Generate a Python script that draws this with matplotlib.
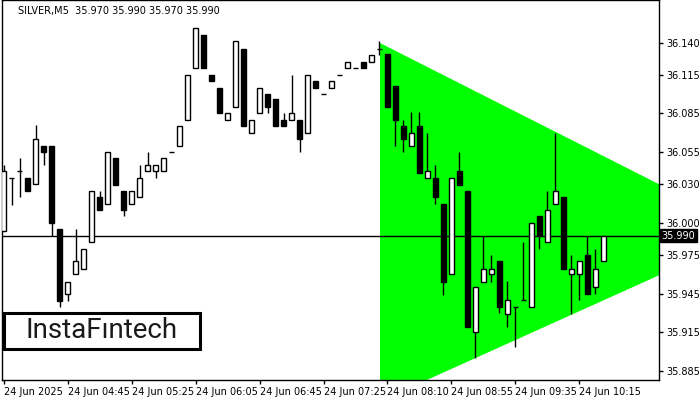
import matplotlib
matplotlib.use('Agg')
import matplotlib.pyplot as plt
import numpy as np

# OHLC of the M5 bars
opens = [35.994, 36.035, 36.040, 36.035, 36.030, 36.060, 36.060, 35.995, 35.945, 35.960,
         35.964, 35.985, 36.020, 36.015, 36.050, 36.025, 36.015, 36.020, 36.040, 36.040,
         36.040, 36.055, 36.060, 36.080, 36.120, 36.146, 36.115, 36.105, 36.080, 36.090,
         36.135, 36.070, 36.085, 36.100, 36.096, 36.080, 36.080, 36.080, 36.070, 36.110,
         36.100, 36.105, 36.115, 36.120, 36.120, 36.125, 36.125, 36.135, 36.131, 36.106,
         36.075, 36.060, 36.075, 36.035, 36.035, 36.015, 35.960, 36.040, 36.025, 35.915,
         35.954, 35.960, 35.970, 35.929, 35.935, 35.940, 35.935, 36.005, 35.985, 36.015,
         36.020, 35.960, 35.960, 35.975, 35.950, 35.970]
highs = [36.045, 36.035, 36.050, 36.035, 36.076, 36.060, 36.060, 35.995, 35.954, 35.995,
         35.980, 36.025, 36.025, 36.055, 36.050, 36.025, 36.025, 36.045, 36.055, 36.045,
         36.050, 36.055, 36.075, 36.115, 36.151, 36.146, 36.115, 36.105, 36.085, 36.141,
         36.135, 36.080, 36.105, 36.100, 36.096, 36.085, 36.115, 36.080, 36.115, 36.110,
         36.100, 36.110, 36.115, 36.125, 36.120, 36.125, 36.130, 36.141, 36.131, 36.106,
         36.080, 36.086, 36.086, 36.070, 36.045, 36.015, 36.035, 36.055, 36.025, 35.950,
         35.990, 35.975, 35.970, 35.955, 35.935, 35.985, 36.000, 36.005, 36.025, 36.070,
         36.020, 35.975, 35.970, 35.990, 35.980, 35.990]
lows = [35.994, 36.014, 36.020, 36.025, 36.030, 36.045, 35.990, 35.935, 35.939, 35.960,
        35.964, 35.985, 36.010, 36.015, 36.029, 36.005, 36.015, 36.020, 36.040, 36.035,
        36.040, 36.055, 36.060, 36.080, 36.120, 36.120, 36.110, 36.085, 36.080, 36.090,
        36.075, 36.070, 36.085, 36.085, 36.075, 36.075, 36.080, 36.055, 36.070, 36.105,
        36.100, 36.105, 36.115, 36.120, 36.120, 36.120, 36.125, 36.130, 36.090, 36.060,
        36.055, 36.060, 36.039, 36.035, 36.015, 35.944, 35.960, 36.029, 35.919, 35.895,
        35.954, 35.954, 35.930, 35.919, 35.904, 35.940, 35.935, 35.980, 35.985, 36.015,
        35.964, 35.929, 35.940, 35.945, 35.945, 35.970]
closes = [36.040, 36.035, 36.040, 36.025, 36.065, 36.055, 36.000, 35.939, 35.954, 35.970,
          35.980, 36.025, 36.010, 36.055, 36.029, 36.010, 36.025, 36.035, 36.045, 36.045,
          36.050, 36.055, 36.075, 36.115, 36.151, 36.120, 36.110, 36.085, 36.085, 36.141,
          36.075, 36.080, 36.105, 36.090, 36.075, 36.075, 36.085, 36.065, 36.115, 36.105,
          36.100, 36.110, 36.115, 36.125, 36.120, 36.120, 36.130, 36.135, 36.090, 36.080,
          36.065, 36.070, 36.039, 36.040, 36.020, 35.954, 36.035, 36.029, 35.919, 35.950,
          35.964, 35.964, 35.935, 35.940, 35.935, 35.940, 36.000, 35.990, 36.010, 36.025,
          35.964, 35.964, 35.970, 35.945, 35.964, 35.990]

# triangle pattern (bar index, upper and lower edge)
tri_k = [47, 82]
tri_top = [36.140, 36.030]
tri_bottom = [35.862, 35.960]

last_price = 35.990
title = 'SILVER,M5  35.970 35.990 35.970 35.990'
ytick_vals = [36.140, 36.115, 36.085, 36.055, 36.030, 36.000, 35.975, 35.945, 35.915, 35.885]
xtick_pos = [0, 8, 16, 24, 32, 40, 48, 56, 64, 72]
xtick_labels = ['24 Jun 2025', '24 Jun 04:45', '24 Jun 05:25', '24 Jun 06:05', '24 Jun 06:45',
                '24 Jun 07:25', '24 Jun 08:10', '24 Jun 08:55', '24 Jun 09:35', '24 Jun 10:15']

fig = plt.figure(figsize=(7, 4), dpi=100)
ax = fig.add_axes([2 / 700, 20 / 400, 657 / 700, 380 / 400])

ax.fill_between(tri_k, tri_bottom, tri_top, color='#00ff00', lw=0, zorder=1)
ax.axhline(last_price, color='black', lw=1, zorder=2)

k = np.arange(len(opens))
o = np.array(opens); c = np.array(closes)
ax.vlines(k, lows, highs, color='black', lw=1, zorder=3)
w = 0.6
up = c > o
dn = c < o
eq = c == o
ax.bar(k[up], (c - o)[up], bottom=o[up], width=w, color='white', edgecolor='black', lw=1, zorder=4)
ax.bar(k[dn], (o - c)[dn], bottom=c[dn], width=w, color='black', edgecolor='black', lw=1, zorder=4)
ax.hlines(o[eq], k[eq] - w / 2, k[eq] + w / 2, color='black', lw=1, zorder=4)

ax.set_xlim(-0.19, 81.94)
ax.set_ylim(35.878, 36.173)

ax.yaxis.tick_right()
ax.set_yticks(ytick_vals)
ax.set_yticklabels(['%.3f' % v for v in ytick_vals])
ax.set_xticks(xtick_pos)
ax.set_xticklabels(xtick_labels, ha='left')
ax.tick_params(axis='both', labelsize=7, length=3, width=1, color='black', pad=2)
for s in ax.spines.values():
    s.set_color('black')
    s.set_linewidth(1)

ax.text(1.004, last_price, '35.990', transform=ax.get_yaxis_transform(),
        fontsize=7, color='white', va='center', ha='left',
        bbox=dict(boxstyle='square,pad=0.15', fc='black', ec='black'))

ax.text(16 / 657, 1 - 11 / 380, title, transform=ax.transAxes, fontsize=7, va='center', ha='left')

# logo box
fig.patches.append(plt.Rectangle((4 / 700, 1 - 349 / 400), 196 / 700, 36 / 400,
                                 transform=fig.transFigure, fc='white', ec='black', lw=2.2, zorder=10))
fig.text(102 / 700, 1 - 331 / 400, 'InstaFıntech', fontsize=20, family='Roboto', ha='center', va='center',
         color='#1a1a1a', zorder=11)

fig.savefig('out.png', dpi=100)
